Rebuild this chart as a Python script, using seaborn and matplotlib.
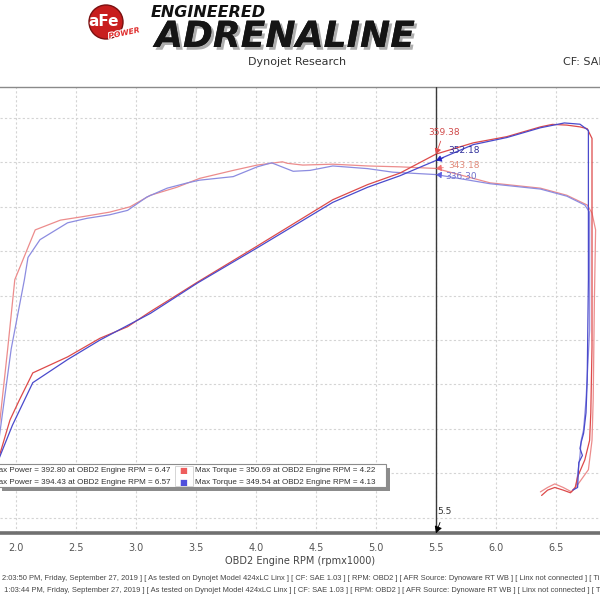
import numpy as np
import pandas as pd
import matplotlib
matplotlib.use("Agg")
import matplotlib.pyplot as plt
import matplotlib.patches as mpatches
import matplotlib.patheffects as pe
from matplotlib.ticker import MultipleLocator, FormatStrFormatter
from matplotlib import font_manager
import seaborn as sns

# ---------------- data ----------------
run1_power_rpm = [1.86, 1.95, 2.03, 2.14, 2.43, 2.70, 2.93, 3.12, 3.31, 3.51, 4.00, 4.64, 4.93, 5.20, 5.50,
                  5.81, 6.09, 6.37, 6.47, 6.59, 6.70, 6.76, 6.80, 6.80, 6.79, 6.78, 6.74, 6.68, 6.66, 6.62,
                  6.56, 6.49, 6.43, 6.38]
run1_power_hp = [19, 60, 83, 113, 131, 152, 165, 182, 198, 215, 255, 308, 325, 338, 359.38,
                 372, 379, 390, 392.8, 392, 390, 388, 377, 142, 68, 37, 15, -4, -16, -22,
                 -19, -16, -19, -25]

run2_power_rpm = [1.86, 1.97, 2.14, 2.43, 2.70, 3.12, 3.51, 4.00, 4.64, 4.93, 5.20, 5.50, 5.81, 6.09,
                  6.37, 6.57, 6.70, 6.77, 6.77, 6.76, 6.75, 6.73, 6.71, 6.70, 6.72, 6.69, 6.68, 6.64]
run2_power_hp = [17, 54, 102, 128, 150, 180, 214, 253, 305, 322, 335, 352.18, 370, 378,
                 389, 394.43, 393, 386, 218, 105, 68, 45, 35, 28, 20, 12, -16, -19]

run1_torque_rpm = [1.86, 1.93, 1.99, 2.16, 2.37, 2.56, 2.78, 2.95, 3.12, 3.34, 3.53, 3.81, 4.01, 4.22,
                   4.26, 4.39, 4.64, 4.93, 5.20, 5.50, 5.95, 6.37, 6.59, 6.76, 6.80, 6.83, 6.82, 6.81,
                   6.80, 6.77, 6.68, 6.63, 6.56, 6.49, 6.43, 6.37]
run1_torque_lbft = [52, 139, 218, 274, 285, 289, 294, 300, 313, 322, 332, 341, 347, 350.69,
                    349, 347, 348, 346, 345, 343.18, 327, 321, 313, 302, 293, 274, 195, 83,
                    37, 4, -13, -21, -16, -12, -16, -21]

run2_torque_rpm = [1.86, 1.96, 2.07, 2.10, 2.20, 2.43, 2.59, 2.78, 2.93, 3.09, 3.26, 3.43, 3.53, 3.81,
                   4.01, 4.13, 4.31, 4.45, 4.64, 4.93, 5.14, 5.50, 5.95, 6.37, 6.59, 6.74, 6.78, 6.78,
                   6.78, 6.75, 6.73, 6.71, 6.70, 6.67]
run2_torque_lbft = [40, 140, 218, 243, 263, 282, 287, 291, 296, 311, 321, 327, 330, 334,
                    345, 349.54, 340, 341, 346, 343, 339, 336.30, 326, 320, 312, 302, 294, 263,
                    161, 82, 49, 37, 20, -13]

x_ticks = [2.0, 2.5, 3.0, 3.5, 4.0, 4.5, 5.0, 5.5, 6.0, 6.5]
cursor_rpm = 5.5
legend_rows = [
    ("Max Power = 392.80 at OBD2 Engine RPM = 6.47", "Max Torque = 350.69 at OBD2 Engine RPM = 4.22"),
    ("Max Power = 394.43 at OBD2 Engine RPM = 6.57", "Max Torque = 349.54 at OBD2 Engine RPM = 4.13"),
]
footer_lines = [
    "2:03:50 PM, Friday, September 27, 2019 ] [ As tested on Dynojet Model 424xLC Linx ] [ CF: SAE 1.03 ] [ RPM: OBD2 ] [ AFR Source: Dynoware RT WB ] [ Linx not connected ] [ Ti",
    " 1:03:44 PM, Friday, September 27, 2019 ] [ As tested on Dynojet Model 424xLC Linx ] [ CF: SAE 1.03 ] [ RPM: OBD2 ] [ AFR Source: Dynoware RT WB ] [ Linx not connected ] [ Ti",
]

# colours
C_P1, C_P2 = "#dd4a4a", "#4a4acc"
C_T1, C_T2 = "#ec8c8c", "#8c8ce0"

installed = {f.name for f in font_manager.fontManager.ttflist}
if "Liberation Sans Narrow" in installed:
    NARROW, LEG_FS = ["Liberation Sans Narrow", "DejaVu Sans"], 6.9
else:
    NARROW, LEG_FS = ["Liberation Sans", "DejaVu Sans"], 5.75

# ---------------- figure ----------------
sns.set_theme(style="white")
plt.rcParams["font.family"] = ["DejaVu Sans"]
fig = plt.figure(figsize=(6, 6), dpi=100)
fig.patch.set_facecolor("white")

def fx(px):
    return px / 600.0

def fy(py):
    return 1 - py / 600.0

ax = fig.add_axes([0, fy(533), 1, fy(87) - fy(533)])
ax.set_facecolor("white")

series = [
    ("Torque run 1", run1_torque_rpm, run1_torque_lbft, C_T1),
    ("Torque run 2", run2_torque_rpm, run2_torque_lbft, C_T2),
    ("Power run 1", run1_power_rpm, run1_power_hp, C_P1),
    ("Power run 2", run2_power_rpm, run2_power_hp, C_P2),
]
for name, xs, ys, col in series:
    df = pd.DataFrame({"rpm": xs, "value": ys})
    sns.lineplot(data=df, x="rpm", y="value", sort=False, estimator=None,
                 color=col, lw=0.9, ax=ax, legend=False, zorder=3)

ax.set_xlim(2.0 - 16 / 120, 2.0 - 16 / 120 + 5.0)
ax.set_ylim(400 - (533 - 118) * 1.126, 400 + (118 - 87) * 1.126)

ax.set_xticks(x_ticks)
ax.xaxis.set_minor_locator(MultipleLocator(0.1))
ax.xaxis.set_major_formatter(FormatStrFormatter("%.1f"))
ax.yaxis.set_major_locator(MultipleLocator(50))
ax.tick_params(axis="y", length=0, labelleft=False)
ax.tick_params(axis="x", which="both", direction="in", color="#555555", length=4.5,
               width=0.9, labelsize=7, labelcolor="#555555", pad=7)
ax.grid(True, which="major", color="#d4d4d4", lw=0.8, ls=(0, (2, 2)))
ax.set_axisbelow(True)

for s in ["left", "right"]:
    ax.spines[s].set_visible(False)
ax.spines["top"].set_color("#8a8a8a")
ax.spines["top"].set_linewidth(1.0)
ax.spines["bottom"].set_color("#707070")
ax.spines["bottom"].set_linewidth(2.6)

ax.set_xlabel("OBD2 Engine RPM (rpmx1000)", fontsize=7, color="#444444", labelpad=2)
ax.set_ylabel("")

# cursor line
ax.axvline(cursor_rpm, color="#3a3a3a", lw=1.0, zorder=4)

# value annotations at the cursor
annots = [
    (run1_power_hp[run1_power_rpm.index(cursor_rpm)], "#d04a4a", (8, 22), "center", C_P1),
    (run2_power_hp[run2_power_rpm.index(cursor_rpm)], "#2e2e9a", (12, 10), "left", "#2020c0"),
    (run1_torque_lbft[run1_torque_rpm.index(cursor_rpm)], "#e08a7a", (12, 3), "left", "#f07070"),
    (run2_torque_lbft[run2_torque_rpm.index(cursor_rpm)], "#7070cc", (9, -2), "left", "#6060e0"),
]
for val, tcol, off, ha, acol in annots:
    ax.annotate(f"{val:.2f}", xy=(cursor_rpm, val), xytext=off, textcoords="offset pixels",
                fontsize=6.5, color=tcol, ha=ha, va="center", zorder=6,
                arrowprops=dict(arrowstyle="-|>,head_length=0.5,head_width=0.3", color=acol,
                                lw=0.6, shrinkA=1, shrinkB=0))

# cursor marker on the axis
ax.annotate(f"{cursor_rpm:.1f}", xy=(cursor_rpm, ax.get_ylim()[0]), xytext=(8, 21),
            textcoords="offset pixels", fontsize=6.5, color="#333333", ha="center", va="center",
            arrowprops=dict(arrowstyle="-|>,head_length=0.6,head_width=0.35", color="black",
                            lw=0.6, shrinkA=2, shrinkB=0), zorder=6, annotation_clip=False)

# ---------------- legend box ----------------
fig.patches.append(mpatches.Rectangle((fx(2), fy(491)), fx(390) - fx(2), fy(468) - fy(491),
                                      transform=fig.transFigure, facecolor="#8c8c8c",
                                      edgecolor="none", zorder=10))
fig.patches.append(mpatches.Rectangle((fx(-3), fy(487)), fx(386) - fx(-3), fy(464) - fy(487),
                                      transform=fig.transFigure, facecolor="white",
                                      edgecolor="#8c8c8c", lw=0.8, zorder=11))
fig.patches.append(mpatches.Rectangle((fx(175), fy(486)), fx(193) - fx(175), fy(466) - fy(486),
                                      transform=fig.transFigure, facecolor="white",
                                      edgecolor="#cfcfcf", lw=0.6, zorder=12))
for i, (ptxt, ttxt) in enumerate(legend_rows):
    yc = 471 + i * 11
    col = "#ee5e5e" if i == 0 else "#5050dd"
    fig.text(fx(183.5), fy(yc), "\u25A0", fontsize=6, color=col, ha="center", va="center",
             zorder=14)
    fig.text(fx(-8), fy(yc), ptxt, fontsize=LEG_FS, color="#333333", va="center", ha="left",
             zorder=14, family=NARROW)
    fig.text(fx(195), fy(yc), ttxt, fontsize=LEG_FS, color="#333333", va="center", ha="left",
             zorder=14, family=NARROW)

# ---------------- header ----------------
fig.patches.append(mpatches.Circle((fx(106), fy(22)), fx(17), transform=fig.transFigure,
                                   facecolor="#c81e1e", edgecolor="#7a1010", lw=1.0, zorder=5))
fig.text(fx(104), fy(21), "aFe", fontsize=11, fontweight="bold", color="white",
         ha="center", va="center", zorder=6)
fig.text(fx(124), fy(33), "POWER", fontsize=5.5, fontweight="bold", fontstyle="italic",
         color="#e03030", ha="center", va="center", rotation=12, zorder=7,
         path_effects=[pe.withStroke(linewidth=1.5, foreground="white")])
fig.text(fx(151), fy(17), "ENGINEERED", fontsize=11.5, fontweight="bold", fontstyle="italic",
         color="#111111", ha="left", va="baseline")
fig.text(fx(155), fy(47), "ADRENALINE", fontsize=26, fontweight="heavy", fontstyle="italic",
         color="#151515", ha="left", va="baseline",
         path_effects=[pe.withSimplePatchShadow(offset=(2, -2), shadow_rgbFace="#9a9a9a", alpha=0.8),
                       pe.Normal()])
fig.text(fx(297), fy(62), "Dynojet Research", fontsize=8, color="#333333", ha="center", va="center")
fig.text(fx(563), fy(62), "CF: SAE 1.03", fontsize=8, color="#333333", ha="left", va="center")

# ---------------- footer ----------------
for i, line in enumerate(footer_lines):
    fig.text(fx(2), fy(579 + i * 12), line, fontsize=5.4, color="#444444", ha="left", va="center",
             family=["Liberation Sans", "DejaVu Sans"])

fig.savefig("out.png", dpi=100, facecolor="white")
